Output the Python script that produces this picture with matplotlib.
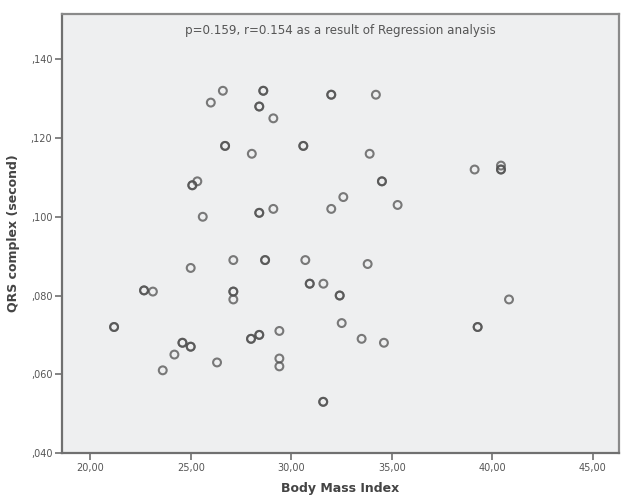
import matplotlib
matplotlib.use("Agg")
import matplotlib.pyplot as plt

# Body Mass Index values (duplicates = overlapping points, drawn darker)
bmi = [26.60, 26.00, 28.61, 28.61, 28.41, 28.41, 29.11, 26.71, 26.71, 28.04,
       30.60, 30.60, 25.08, 25.08, 25.33, 25.60, 28.41, 28.41, 29.11,
       31.99, 31.99, 34.21, 33.90, 39.12, 40.43, 40.43, 40.43,
       34.51, 34.51, 32.59, 31.99, 35.29,
       27.12, 28.70, 28.70, 30.70, 25.00, 30.92, 30.92, 31.60,
       22.68, 22.68, 23.12, 27.12, 27.12, 27.12, 21.19, 21.19, 29.41,
       28.00, 28.00, 28.41, 28.41, 24.59, 24.59, 25.00, 25.00,
       24.19, 26.31, 29.41, 29.41, 23.61, 33.80, 32.41, 32.41, 40.83,
       32.51, 39.27, 39.27, 33.50, 34.61, 31.59, 31.59]
qrs = [0.132, 0.129, 0.132, 0.132, 0.128, 0.128, 0.125, 0.118, 0.118, 0.116,
       0.118, 0.118, 0.108, 0.108, 0.109, 0.100, 0.101, 0.101, 0.102,
       0.131, 0.131, 0.131, 0.116, 0.112, 0.113, 0.112, 0.112,
       0.109, 0.109, 0.105, 0.102, 0.103,
       0.089, 0.089, 0.089, 0.089, 0.087, 0.083, 0.083, 0.083,
       0.0813, 0.0813, 0.081, 0.081, 0.081, 0.079, 0.072, 0.072, 0.071,
       0.069, 0.069, 0.070, 0.070, 0.068, 0.068, 0.067, 0.067,
       0.065, 0.063, 0.064, 0.062, 0.061, 0.088, 0.080, 0.080, 0.079,
       0.073, 0.072, 0.072, 0.069, 0.068, 0.053, 0.053]

x_ticks = [20, 25, 30, 35, 40, 45]
x_tick_labels = ["20,00", "25,00", "30,00", "35,00", "40,00", "45,00"]
y_ticks = [0.040, 0.060, 0.080, 0.100, 0.120, 0.140]
y_tick_labels = [",040", ",060", ",080", ",100", ",120", ",140"]

annotation = "p=0.159, r=0.154 as a result of Regression analysis"
x_label = "Body Mass Index"
y_label = "QRS complex (second)"

fig = plt.figure(figsize=(6.23, 4.99), dpi=100)
fig.patch.set_facecolor("white")
ax = fig.add_axes([62/623, 1-453/499, (619-62)/623, (453-14)/499])
ax.set_facecolor("#eeeff0")

ax.scatter(bmi, qrs, s=32, facecolors="none", edgecolors="#505050",
           linewidths=1.5, alpha=0.75, zorder=3)

ax.set_xlim(18.6, 46.3)
ax.set_ylim(0.040, 0.1515)
ax.set_xticks(x_ticks)
ax.set_xticklabels(x_tick_labels)
ax.set_yticks(y_ticks)
ax.set_yticklabels(y_tick_labels)
ax.tick_params(axis="both", direction="out", length=5, width=1.2,
               color="#707070", labelsize=7, labelcolor="#555555", pad=2)

for sp in ax.spines.values():
    sp.set_color("#8a8a8a")
    sp.set_linewidth(1.6)
ax.spines["left"].set_color("#707070")
ax.spines["bottom"].set_color("#707070")

ax.text(0.5, 0.977, annotation, transform=ax.transAxes, ha="center", va="top",
        fontsize=8.6, color="#555555")

ax.set_xlabel(x_label, fontsize=9, fontweight="bold", color="#444444", labelpad=7)
ax.set_ylabel(y_label, fontsize=9, fontweight="bold", color="#444444", labelpad=8)

fig.savefig("out.png", dpi=100, facecolor="white")
